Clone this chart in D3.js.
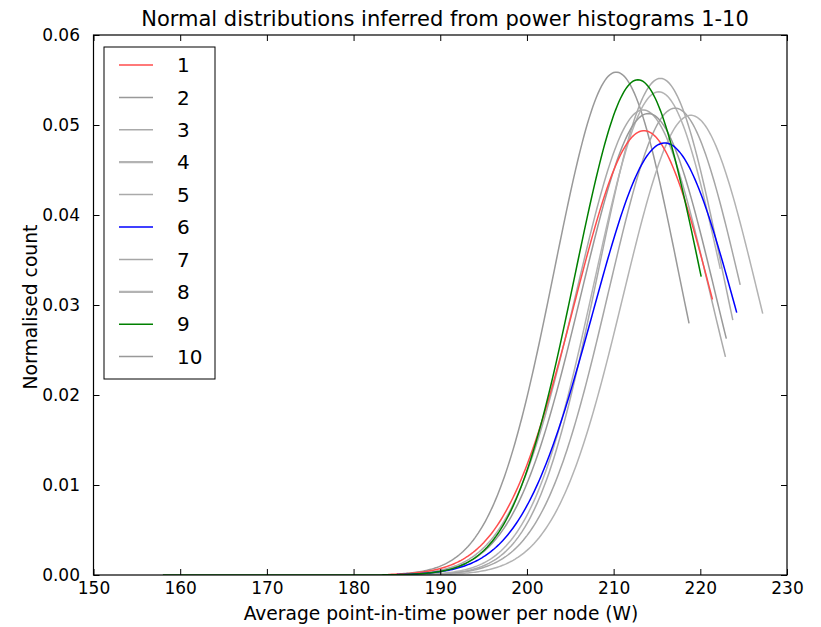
<!DOCTYPE html>
<html>
<head>
<meta charset="utf-8">
<script src="https://cdn.jsdelivr.net/npm/d3@7"></script>
<style>
  body { margin: 0; background: #fff; }
  svg { display: block; }
  text { font-family: "DejaVu Sans", sans-serif; fill: #000; }
</style>
</head>
<body>
<div id="chart"></div>
<script>
// ********** NORMAL DISTRIBUTION CHART **********

const names   = ['1', '2', '3', '4', '5', '6', '7', '8', '9', '10'];
const means   = [213.5, 210.3, 215.4, 215.2, 213.4, 215.9, 217.1, 218.9, 212.8, 214.0];
const sigmas  = [8.08, 7.14, 7.23, 7.43, 7.72, 8.31, 7.69, 7.81, 7.25, 7.78];
const xStarts = [184.0, 185.0, 187.0, 186.0, 185.5, 185.0, 188.0, 189.0, 158.0, 186.0];
const xEnds   = [221.4, 218.7, 223.75, 222.3, 222.9, 224.2, 224.6, 227.2, 220.1, 223.0];
const lineColors = ['#ff4d4d', '#999999', '#aaaaaa', '#b3b3b3', '#aaaaaa',
                    '#0000ff', '#a6a6a6', '#b3b3b3', '#008000', '#999999'];

// Axis ticks
const xTicks = [150, 160, 170, 180, 190, 200, 210, 220, 230];
const yTicks = [0, 0.01, 0.02, 0.03, 0.04, 0.05, 0.06];

const width = 821, height = 627;
const plot = { left: 93.5, right: 787, top: 35, bottom: 575 };

const svg = d3.select('#chart')
  .append('svg')
  .attr('width', width)
  .attr('height', height);

const x = d3.scaleLinear().domain([150, 230]).range([plot.left, plot.right]);
const y = d3.scaleLinear().domain([0, 0.06]).range([plot.bottom, plot.top]);

// normal pdf for one series
const pdf = (v, mu, sd) => Math.exp(-0.5 * ((v - mu) / sd) ** 2) / (sd * Math.sqrt(2 * Math.PI));

const series = names.map((n, i) => {
  const pts = d3.range(xStarts[i], xEnds[i], 0.2).concat([xEnds[i]])
    .map(v => [v, pdf(v, means[i], sigmas[i])]);
  return { name: n, color: lineColors[i], pts, gray: ![0, 5, 8].includes(i) };
});

const line = d3.line().x(d => x(d[0])).y(d => y(d[1]));

// clip to the axes box
svg.append('clipPath').attr('id', 'clip')
  .append('rect')
  .attr('x', plot.left).attr('y', plot.top)
  .attr('width', plot.right - plot.left).attr('height', plot.bottom - plot.top);

const curves = svg.append('g').attr('clip-path', 'url(#clip)');

// greys underneath, coloured ones on top
const drawOrder = series.filter(s => s.gray).concat(series.filter(s => !s.gray));
curves.selectAll('path')
  .data(drawOrder)
  .enter()
  .append('path')
  .attr('d', d => line(d.pts))
  .attr('fill', 'none')
  .attr('stroke', d => d.color)
  .attr('stroke-width', 1.5);

// axes - matplotlib classic style: inward ticks on all sides
const xAxisBottom = d3.axisBottom(x).tickValues(xTicks).tickSizeInner(-6).tickSizeOuter(0).tickPadding(7);
const xAxisTop = d3.axisTop(x).tickValues(xTicks).tickSizeInner(-6).tickSizeOuter(0).tickFormat('');
const yAxisLeft = d3.axisLeft(y).tickValues(yTicks).tickSizeInner(-6).tickSizeOuter(0).tickPadding(13.5).tickFormat(d3.format('.2f'));
const yAxisRight = d3.axisRight(y).tickValues(yTicks).tickSizeInner(-6).tickSizeOuter(0).tickFormat('');

const axes = [
  [xAxisBottom, `translate(0,${plot.bottom})`],
  [xAxisTop, `translate(0,${plot.top})`],
  [yAxisLeft, `translate(${plot.left},0)`],
  [yAxisRight, `translate(${plot.right},0)`]
];
axes.forEach(([ax, tr]) => {
  const g = svg.append('g').attr('transform', tr).call(ax);
  g.select('.domain').remove();
  g.selectAll('line').attr('stroke', '#000').attr('stroke-width', 1);
  g.selectAll('text').attr('font-size', 17).attr('font-family', '"DejaVu Sans", sans-serif').attr('fill', '#000');
});

// frame
svg.append('rect')
  .attr('x', plot.left).attr('y', plot.top)
  .attr('width', plot.right - plot.left).attr('height', plot.bottom - plot.top)
  .attr('fill', 'none')
  .attr('stroke', '#000')
  .attr('stroke-width', 1.2);

// size a text so that it spans the wanted length
const fitText = (sel, target) => {
  const base = 16;
  sel.attr('font-size', base);
  const len = sel.node().getComputedTextLength();
  sel.attr('font-size', base * target / len);
};

// titles
const title = svg.append('text')
  .attr('x', 445)
  .attr('y', 26)
  .attr('text-anchor', 'middle')
  .text('Normal distributions inferred from power histograms 1-10');
fitText(title, 608);

const xLabel = svg.append('text')
  .attr('x', 441)
  .attr('y', 620)
  .attr('text-anchor', 'middle')
  .text('Average point-in-time power per node (W)');
fitText(xLabel, 395);

const yLabel = svg.append('text')
  .attr('transform', `translate(37,${(plot.top + plot.bottom) / 2 + 2}) rotate(-90)`)
  .attr('text-anchor', 'middle')
  .text('Normalised count');
fitText(yLabel, 165);

// legend
const legend = svg.append('g').attr('class', 'legendGroup').attr('transform', 'translate(104,47)');
legend.append('rect')
  .attr('width', 111).attr('height', 332)
  .attr('fill', '#fff')
  .attr('stroke', '#000')
  .attr('stroke-width', 1);

const rows = legend.selectAll('g.row')
  .data(series)
  .enter()
  .append('g')
  .attr('class', 'row')
  .attr('transform', (d, i) => `translate(0,${18 + i * 32.4})`);

rows.append('line')
  .attr('x1', 15).attr('x2', 49)
  .attr('stroke', d => d.color)
  .attr('stroke-width', (d, i) => (i === 3 || i === 7) ? 2.2 : 1.5);

rows.append('text')
  .attr('x', 73)
  .attr('dy', '0.36em')
  .attr('font-size', 20)
  .text(d => d.name);
</script>
</body>
</html>
